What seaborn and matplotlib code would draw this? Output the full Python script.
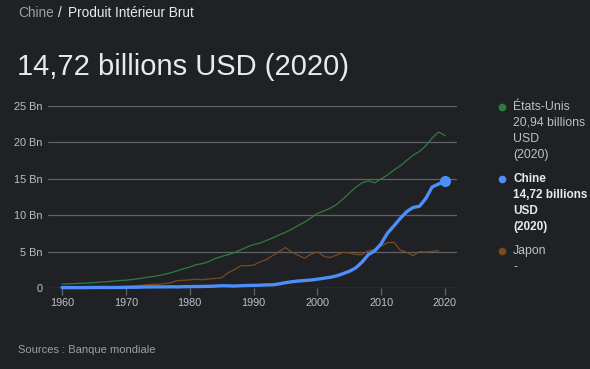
"""
Google-style GDP card: USA / China / Japan, 1960-2020, dark theme.
"""

import matplotlib
matplotlib.use("Agg")
import matplotlib.pyplot as plt
from matplotlib.lines import Line2D
import numpy as np
import pandas as pd
import seaborn as sns

# GDP in trillions of USD ("Bn" on the axis)
years = list(range(1960, 2021))

usa = [0.54, 0.56, 0.61, 0.64, 0.69, 0.74, 0.82, 0.86, 0.94, 1.02,
       1.07, 1.17, 1.28, 1.43, 1.55, 1.68, 1.87, 2.08, 2.35, 2.63,
       2.86, 3.21, 3.34, 3.63, 4.04, 4.34, 4.58, 4.86, 5.24, 5.64,
       5.96, 6.16, 6.52, 6.86, 7.29, 7.64, 8.07, 8.58, 9.06, 9.63,
       10.25, 10.58, 10.94, 11.46, 12.21, 13.04, 13.82, 14.45, 14.71, 14.45,
       14.99, 15.54, 16.20, 16.78, 17.53, 18.24, 18.75, 19.54, 20.61, 21.43,
       20.94]

china = [0.06, 0.05, 0.05, 0.05, 0.06, 0.07, 0.08, 0.07, 0.07, 0.08,
         0.09, 0.10, 0.11, 0.14, 0.14, 0.16, 0.15, 0.17, 0.15, 0.18,
         0.19, 0.20, 0.21, 0.23, 0.26, 0.31, 0.30, 0.27, 0.31, 0.35,
         0.36, 0.38, 0.43, 0.44, 0.56, 0.73, 0.86, 0.96, 1.03, 1.09,
         1.21, 1.34, 1.47, 1.66, 1.96, 2.29, 2.75, 3.55, 4.59, 5.10,
         6.09, 7.55, 8.53, 9.57, 10.48, 11.06, 11.23, 12.31, 13.89, 14.28,
         14.72]

# Japan stops at 2019 (no 2020 value in the card)
japan = [0.04, 0.05, 0.06, 0.07, 0.08, 0.09, 0.11, 0.12, 0.15, 0.17,
         0.21, 0.24, 0.32, 0.43, 0.48, 0.52, 0.59, 0.72, 1.01, 1.06,
         1.11, 1.22, 1.13, 1.24, 1.32, 1.40, 2.08, 2.53, 3.07, 3.05,
         3.13, 3.58, 3.91, 4.45, 5.00, 5.55, 4.92, 4.49, 4.10, 4.64,
         4.97, 4.37, 4.18, 4.52, 4.89, 4.83, 4.60, 4.58, 5.11, 5.29,
         5.76, 6.23, 6.27, 5.21, 4.90, 4.44, 5.00, 4.93, 5.04, 5.12,
         np.nan]

y_ticks = [0, 5, 10, 15, 20, 25]
y_tick_labels = ["0", "5 Bn", "10 Bn", "15 Bn", "20 Bn", "25 Bn"]
x_ticks = [1960, 1970, 1980, 1990, 2000, 2010, 2020]

BG = "#202124"
GRID = "#5f6368"
TEXT = "#bdc1c6"
WHITE = "#e8eaed"
GREY = "#9aa0a6"
C_USA = "#2e7d3f"
C_CHINA = "#4d8ef7"
C_JAPAN = "#7b4a1e"

df = pd.DataFrame({"year": years, "usa": usa, "china": china, "japan": japan})

sns.set_theme(style="dark")
plt.rcParams["font.family"] = ["Liberation Sans", "DejaVu Sans"]

fig = plt.figure(figsize=(5.9, 3.69), dpi=100, facecolor=BG)
ax = fig.add_axes([48 / 590, 1 - 288 / 369, 409 / 590, 182 / 369])
ax.set_facecolor(BG)

sns.lineplot(data=df, x="year", y="usa", color=C_USA, linewidth=0.9, ax=ax, clip_on=False)
sns.lineplot(data=df, x="year", y="japan", color=C_JAPAN, linewidth=0.9, ax=ax, clip_on=False)
sns.lineplot(data=df, x="year", y="china", color=C_CHINA, linewidth=2.4, ax=ax,
             clip_on=False, solid_capstyle="round", zorder=5)
last = df.dropna(subset=["china"]).iloc[-1]
ax.plot([last["year"]], [last["china"]], "o", color=C_CHINA, markersize=7,
        clip_on=False, zorder=6)

ax.set_xlim(1960 - 14 / 6.383, 2020 + 12 / 6.383)
ax.set_ylim(0, 25)
ax.set_yticks(y_ticks)
ax.set_yticklabels(y_tick_labels)
ax.set_xticks(x_ticks)
ax.set_xticklabels([str(x) for x in x_ticks])
ax.set_xlabel("")
ax.set_ylabel("")
ax.grid(False)
for yt in y_ticks:
    ax.axhline(yt, color=GRID, linewidth=0.9, zorder=0)
for s in ax.spines.values():
    s.set_visible(False)
ax.tick_params(axis="y", length=0, pad=4, labelsize=7.8, labelcolor=TEXT)
ax.tick_params(axis="x", length=5, width=0.9, color=GRID, pad=2,
               labelsize=7.8, labelcolor=TEXT, bottom=True)

# header
fig.text(18 / 590, 1 - 13 / 369, "Chine", color=GREY, fontsize=9.8, va="center")
fig.text(58 / 590, 1 - 13 / 369, "/", color=WHITE, fontsize=9.8, va="center")
fig.text(68 / 590, 1 - 13 / 369, "Produit Intérieur Brut", color=WHITE,
         fontsize=9.8, va="center")
fig.text(17 / 590, 1 - 67 / 369, "14,72 billions USD (2020)", color=WHITE,
         fontsize=21, va="center")
fig.text(18 / 590, 1 - 350 / 369, "Sources : Banque mondiale", color=GREY,
         fontsize=8, va="center")

# legend
legend_items = [
    (107, C_USA, ["États-Unis", "20,94 billions", "USD", "(2020)"], TEXT, "normal"),
    (179, C_CHINA, ["Chine", "14,72 billions", "USD", "(2020)"], WHITE, "bold"),
    (251, C_JAPAN, ["Japon", "-"], TEXT, "normal"),
]
for ypx, col, lines, tcol, weight in legend_items:
    fig.add_artist(Line2D([502 / 590], [1 - ypx / 369], marker="o", markersize=4.5,
                          color=col, linestyle="none", transform=fig.transFigure))
    for i, t in enumerate(lines):
        fig.text(513 / 590, 1 - (ypx + i * 16) / 369, t, color=tcol,
                 fontsize=8.8 if weight == "normal" else 8.5,
                 fontweight=weight, va="center")

fig.savefig("out.png", dpi=100, facecolor=BG)
